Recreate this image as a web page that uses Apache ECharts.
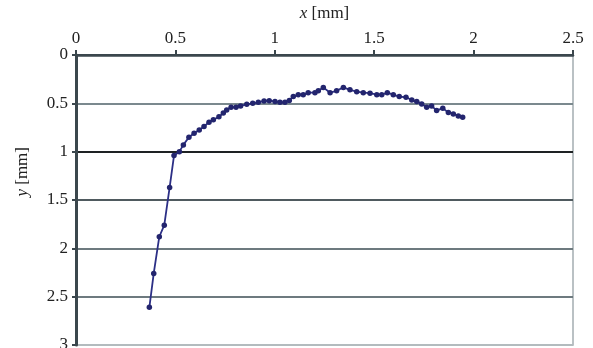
<!DOCTYPE html>
<html>
<head>
<meta charset="utf-8">
<script src="https://cdn.jsdelivr.net/npm/echarts@6/dist/echarts.min.js"></script>
<style>
  html, body { margin: 0; padding: 0; background: #fff; }
  #chart { width: 593px; height: 348px; }
</style>
</head>
<body>
<div id="chart"></div>
<script>
// profile points
var xValues = [0.369, 0.391, 0.419, 0.444, 0.471, 0.493, 0.520, 0.540, 0.568, 0.594,
    0.620, 0.644, 0.669, 0.691, 0.719, 0.741, 0.758, 0.780, 0.805, 0.828,
    0.859, 0.889, 0.917, 0.946, 0.972, 1.001, 1.026, 1.051, 1.073, 1.093,
    1.118, 1.143, 1.168, 1.202, 1.219, 1.244, 1.278, 1.311, 1.345, 1.378,
    1.412, 1.445, 1.479, 1.513, 1.538, 1.566, 1.596, 1.626, 1.660, 1.689,
    1.714, 1.739, 1.764, 1.789, 1.814, 1.845, 1.873, 1.898, 1.923, 1.945];
var yValues = [2.61, 2.26, 1.88, 1.76, 1.37, 1.04, 1.00, 0.93, 0.85, 0.81,
    0.775, 0.74, 0.695, 0.67, 0.64, 0.60, 0.57, 0.54, 0.54, 0.527,
    0.51, 0.50, 0.49, 0.475, 0.472, 0.48, 0.49, 0.49, 0.47, 0.43,
    0.41, 0.41, 0.39, 0.39, 0.37, 0.335, 0.39, 0.37, 0.335, 0.36,
    0.38, 0.39, 0.395, 0.41, 0.41, 0.39, 0.41, 0.43, 0.437, 0.465,
    0.48, 0.506, 0.54, 0.527, 0.575, 0.55, 0.596, 0.61, 0.63, 0.645];

// horizontal grid lines 0, 0.5 ... 3
var gridColors = ['#3b474d', '#7b898e', '#1e2224', '#4f5a5f', '#6d7a7f', '#6d7a7f', '#b3bbbe'];

var FONT = 'Liberation Serif, Times New Roman, DejaVu Serif, serif';

var points = [];
for (var i = 0; i < xValues.length; i++) {
    points.push([xValues[i], yValues[i]]);
}

var chart = echarts.init(document.getElementById('chart'));

var option = {
    animation: false,
    textStyle: { fontFamily: FONT },
    grid: {
        left: 76,
        right: 20,
        top: 55,
        bottom: 3,
        outerBoundsMode: 'none',
        containLabel: false,
        show: true,
        borderColor: '#a4adb1',
        borderWidth: 1.5
    },
    xAxis: {
        type: 'value',
        position: 'top',
        min: 0,
        max: 2.5,
        interval: 0.5,
        name: '{i|x} [mm]',
        nameLocation: 'middle',
        nameGap: 33,
        nameTextStyle: {
            fontFamily: FONT,
            fontSize: 17,
            color: '#222',
            rich: {
                i: { fontFamily: FONT, fontSize: 17, fontStyle: 'italic', color: '#222' }
            }
        },
        axisLine: { show: true, lineStyle: { color: '#3b474d', width: 2.5 } },
        axisTick: { show: true, length: 5, lineStyle: { color: '#3b474d', width: 2 } },
        axisLabel: {
            fontFamily: FONT,
            fontSize: 17,
            color: '#222',
            margin: 8
        },
        splitLine: { show: false }
    },
    yAxis: {
        type: 'value',
        inverse: true,
        min: 0,
        max: 3,
        interval: 0.5,
        axisLine: { show: true, onZero: false, lineStyle: { color: '#3b474d', width: 3 } },
        axisTick: { show: true, length: 4, lineStyle: { color: '#3b474d', width: 2 } },
        axisLabel: {
            fontFamily: FONT,
            fontSize: 17,
            color: '#222',
            margin: 8
        },
        splitLine: { show: true, lineStyle: { color: gridColors, width: 2 } }
    },
    graphic: [{
        type: 'text',
        left: 14,
        top: 147,
        rotation: Math.PI / 2,
        style: {
            text: '{i|y} [mm]',
            fontFamily: FONT,
            fontSize: 17,
            fill: '#222',
            rich: {
                i: { fontFamily: FONT, fontSize: 17, fontStyle: 'italic', fill: '#222' }
            }
        }
    }],
    series: [{
        type: 'line',
        data: points,
        symbol: 'circle',
        symbolSize: 5.5,
        lineStyle: { color: '#2c2f86', width: 1.8 },
        itemStyle: { color: '#23256e' },
        z: 5
    }]
};

chart.setOption(option);
</script>
</body>
</html>
